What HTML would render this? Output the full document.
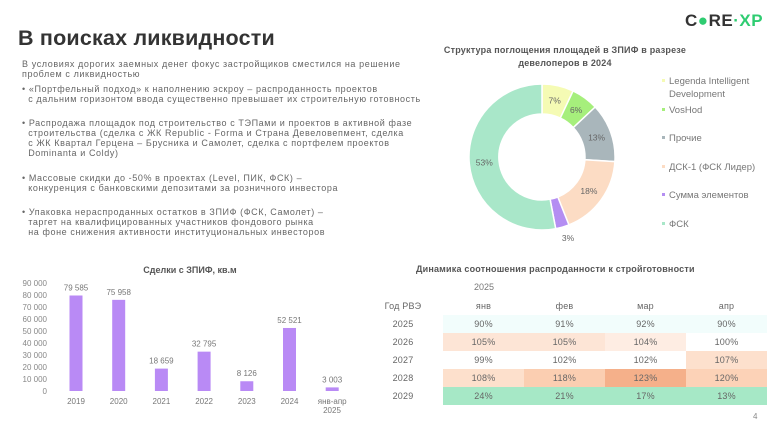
<!DOCTYPE html><html><head><meta charset="utf-8"><style>
body{margin:0;width:781px;height:432px;background:#fff;font-family:"Liberation Sans","DejaVu Sans",sans-serif;position:relative;overflow:hidden;color:#555}
.a{position:absolute;white-space:nowrap}
.t{font-size:9px;line-height:10px;color:#666;letter-spacing:0.6px}
td{padding:0;text-align:center;font-size:9px;color:#666;height:18px;letter-spacing:0.2px}
</style></head><body>
<div class="a" style="left:18px;top:26px;font-size:21.5px;font-weight:bold;color:#333;letter-spacing:0.2px">В поисках ликвидности</div>
<div class="a t" style="left:22px;top:59px">В условиях дорогих заемных денег фокус застройщиков сместился на решение<br>проблем с ликвидностью</div>
<div class="a t" style="left:22px;top:84px">• «Портфельный подход» к наполнению эскроу – распроданность проектов<br>&nbsp;&nbsp;с дальним горизонтом ввода существенно превышает их строительную готовность</div>
<div class="a t" style="left:22px;top:118px">• Распродажа площадок под строительство с ТЭПами и проектов в активной фазе<br>&nbsp;&nbsp;строительства (сделка с ЖК Republic - Forma и Страна Девеловепмент, сделка<br>&nbsp;&nbsp;с ЖК Квартал Герцена – Брусника и Самолет, сделка с портфелем проектов<br>&nbsp;&nbsp;Dominanta и Coldy)</div>
<div class="a t" style="left:22px;top:173px">• Массовые скидки до -50% в проектах (Level, ПИК, ФСК) –<br>&nbsp;&nbsp;конкуренция с банковскими депозитами за розничного инвестора</div>
<div class="a t" style="left:22px;top:207px">• Упаковка нераспроданных остатков в ЗПИФ (ФСК, Самолет) –<br>&nbsp;&nbsp;таргет на квалифицированных участников фондового рынка<br>&nbsp;&nbsp;на фоне снижения активности институциональных инвесторов</div>
<div class="a" style="left:685px;top:11px;font-size:17px;font-weight:bold;color:#333;letter-spacing:0.5px">C<span style="color:#2ecc71">●</span>RE<span style="color:#2ecc71">·XP</span></div>
<div class="a" style="left:435px;top:44px;width:260px;text-align:center;font-size:9px;font-weight:bold;line-height:13px;color:#555;white-space:normal;letter-spacing:0.2px">Структура поглощения площадей в ЗПИФ в разрезе девелоперов в 2024</div>
<svg class="a" style="left:0;top:0" width="781" height="432" id="d"></svg>
<script>
var segs=[[7,"#f5fbb4","7%"],[6,"#a6ef7c","6%"],[13,"#a9b6bb","13%"],[18,"#fcdcc4","18%"],[3,"#b48ef2","3%"],[53,"#a9e7c9","53%"]];
var cx=542,cy=157,R=73,r=43,a=-Math.PI/2,h="";
segs.forEach(function(s,i){var b=a+s[0]/100*2*Math.PI;
var p=function(rr,t){return (cx+rr*Math.cos(t)).toFixed(1)+","+(cy+rr*Math.sin(t)).toFixed(1)};
var lg=s[0]>50?1:0;
h+='<path d="M'+p(R,a)+' A'+R+','+R+' 0 '+lg+' 1 '+p(R,b)+' L'+p(r,b)+' A'+r+','+r+' 0 '+lg+' 0 '+p(r,a)+'Z" fill="'+s[1]+'" stroke="#fff" stroke-width="1.5"/>';
var m=(a+b)/2,lr=(R+r)/2;
if(i==4){h+='<text x="'+(cx+26)+'" y="'+(cy+84)+'" font-size="8.5" fill="#666" text-anchor="middle" font-family="Liberation Sans">3%</text>';}
else h+='<text x="'+(cx+lr*Math.cos(m)).toFixed(1)+'" y="'+(cy+lr*Math.sin(m)+3).toFixed(1)+'" font-size="8.5" fill="#666" text-anchor="middle" font-family="Liberation Sans">'+s[2]+'</text>';
a=b;});
var L=[["Legenda Intelligent","#f5fbb4",84],["VosHod","#a6ef7c",113],["Прочие","#a9b6bb",141],["ДСК-1 (ФСК Лидер)","#fcdcc4",170],["Сумма элементов","#b48ef2",198],["ФСК","#a9e7c9",227]];
L.forEach(function(l){h+='<rect x="662" y="'+(l[2]-5)+'" width="3" height="3" fill="'+l[1]+'"/><text x="669" y="'+l[2]+'" font-size="9.5" fill="#777" font-family="Liberation Sans">'+l[0]+'</text>';});
h+='<text x="669" y="97" font-size="9.5" fill="#777" font-family="Liberation Sans">Development</text>';
h+='<text x="190" y="273" font-size="9" font-weight="bold" fill="#555" text-anchor="middle" font-family="Liberation Sans">Сделки с ЗПИФ, кв.м</text>';
for(var k=0;k<=9;k++){var y=391-k*12;h+='<text x="47" y="'+(y+3)+'" font-size="8" fill="#888" text-anchor="end" font-family="Liberation Sans">'+(k==0?"0":(k*10)+" 000")+'</text>';}
var B=[[79585,"79 585","2019"],[75958,"75 958","2020"],[18659,"18 659","2021"],[32795,"32 795","2022"],[8126,"8 126","2023"],[52521,"52 521","2024"],[3003,"3 003","янв-апр"]];
B.forEach(function(b,i){var x=76+i*42.7,hh=b[0]/10000*12;h+='<rect x="'+(x-6.5)+'" y="'+(391-hh)+'" width="13" height="'+hh+'" fill="#b98af5"/>';
h+='<text x="'+x+'" y="'+(391-hh-5)+'" font-size="8" fill="#777" text-anchor="middle" font-family="Liberation Sans">'+b[1]+'</text>';
h+='<text x="'+x+'" y="404" font-size="8" fill="#777" text-anchor="middle" font-family="Liberation Sans">'+b[2]+'</text>';});
h+='<text x="332" y="413" font-size="8" fill="#777" text-anchor="middle" font-family="Liberation Sans">2025</text>';
document.getElementById("d").innerHTML=h;
</script>
<div class="a" style="left:416px;top:264px;font-size:9px;font-weight:bold;color:#555;letter-spacing:0.2px">Динамика соотношения распроданности к стройготовности</div>
<div class="a" style="left:474px;top:282px;font-size:9px;color:#777">2025</div>
<table class="a" style="left:363px;top:297px;border-collapse:collapse">
<tr><td style="width:80px">Год РВЭ</td><td style="width:81px">янв</td><td style="width:81px">фев</td><td style="width:81px">мар</td><td style="width:81px">апр</td></tr>
<tr><td>2025</td><td style="background:#f2fdfc">90%</td><td style="background:#f2fdfc">91%</td><td style="background:#f2fdfc">92%</td><td style="background:#f2fdfc">90%</td></tr>
<tr><td>2026</td><td style="background:#fde5d6">105%</td><td style="background:#fde5d6">105%</td><td style="background:#feede3">104%</td><td>100%</td></tr>
<tr><td>2027</td><td>99%</td><td>102%</td><td>102%</td><td style="background:#fde0cd">107%</td></tr>
<tr><td>2028</td><td style="background:#fde0cc">108%</td><td style="background:#fbceb1">118%</td><td style="background:#f5b08a">123%</td><td style="background:#fcd2b7">120%</td></tr>
<tr><td>2029</td><td style="background:#a6e8c6">24%</td><td style="background:#a6e8c6">21%</td><td style="background:#a6e8c6">17%</td><td style="background:#a6e8c6">13%</td></tr>
</table>
<div class="a" style="left:753px;top:412px;font-size:8px;color:#888">4</div>
</body></html>
